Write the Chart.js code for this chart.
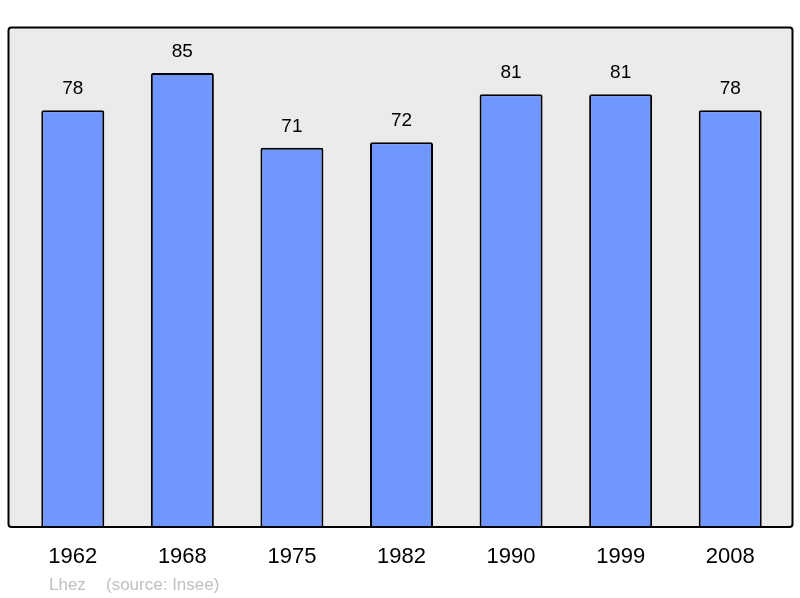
<!DOCTYPE html>
<html>
<head>
<meta charset="utf-8">
<script src="https://cdn.jsdelivr.net/npm/chart.js@4/dist/chart.umd.min.js"></script>
<style>
  html, body { margin: 0; padding: 0; background: #fff; }
  #wrap { width: 800px; height: 598px; }
</style>
</head>
<body>
<div id="wrap"><canvas id="population-chart"></canvas></div>
<script>
const years = ["1962", "1968", "1975", "1982", "1990", "1999", "2008"];
const population = [78, 85, 71, 72, 81, 81, 78];
const yMax = 93.6;

// grey frame behind the bars
const frame = {
    id: "frame",
    beforeDatasetsDraw(chart) {
        const { ctx, chartArea } = chart;
        const left = chartArea.left - 9.5;
        const right = chartArea.right + 7.5;
        const top = chartArea.top + 0.5;
        const bottom = chartArea.bottom + 0.5;
        ctx.save();
        ctx.beginPath();
        ctx.roundRect(left, top, right - left, bottom - top, 3);
        ctx.fillStyle = "#ebebeb";
        ctx.fill();
        ctx.restore();
    },
    afterDatasetsDraw(chart) {
        const { ctx, chartArea } = chart;
        const left = chartArea.left - 9.5;
        const right = chartArea.right + 7.5;
        const top = chartArea.top + 0.5;
        const bottom = chartArea.bottom + 0.5;
        ctx.save();
        ctx.beginPath();
        ctx.roundRect(left, top, right - left, bottom - top, 3);
        ctx.lineWidth = 2;
        ctx.strokeStyle = "#000";
        ctx.stroke();
        ctx.restore();
    }
};

// numbers above the bars
const valueLabels = {
    id: "valueLabels",
    afterDatasetsDraw(chart) {
        const { ctx } = chart;
        const meta = chart.getDatasetMeta(0);
        ctx.save();
        ctx.font = "19px 'Liberation Sans', Arial, sans-serif";
        ctx.fillStyle = "#000";
        ctx.textAlign = "center";
        ctx.textBaseline = "alphabetic";
        meta.data.forEach((bar, i) => {
            ctx.fillText(String(population[i]), bar.x, bar.y - 16);
        });
        ctx.restore();
    }
};

// author / source line
const footer = {
    id: "footer",
    afterDraw(chart) {
        const { ctx } = chart;
        ctx.save();
        ctx.font = "17px 'Liberation Sans', Arial, sans-serif";
        ctx.fillStyle = "#c0c0c0";
        ctx.textBaseline = "alphabetic";
        ctx.fillText("Lhez", 49, 590);
        ctx.fillText("(source: Insee)", 106, 590);
        ctx.restore();
    }
};

new Chart(document.getElementById("population-chart"), {
    type: "bar",
    data: {
        labels: years,
        datasets: [{
            data: population,
            backgroundColor: "#7097ff",
            borderColor: "#000",
            borderWidth: 2,
            borderRadius: 2,
            borderSkipped: "bottom",
            barPercentage: 0.575,
            categoryPercentage: 1
        }]
    },
    options: {
        responsive: true,
        maintainAspectRatio: false,
        animation: false,
        layout: {
            padding: { left: 18, right: 15, top: 27, bottom: 11 }
        },
        plugins: {
            legend: { display: false },
            tooltip: { enabled: false }
        },
        scales: {
            x: {
                grid: { display: false, drawTicks: false },
                border: { display: false },
                ticks: {
                    color: "#000",
                    padding: 17,
                    font: { family: "'Liberation Sans', Arial, sans-serif", size: 22 }
                }
            },
            y: {
                display: false,
                min: 0,
                max: yMax
            }
        }
    },
    plugins: [frame, valueLabels, footer]
});
</script>
</body>
</html>
